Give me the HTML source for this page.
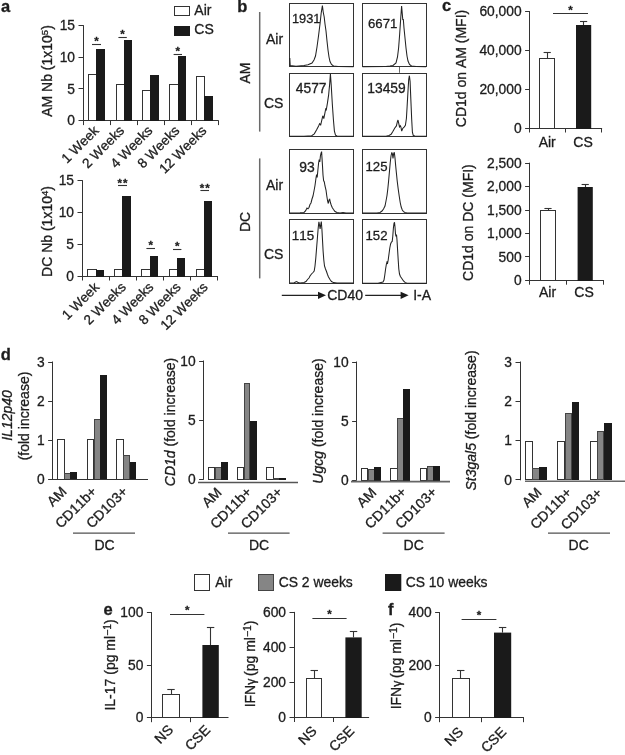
<!DOCTYPE html>
<html lang="en"><head><meta charset="utf-8"><title>Figure</title>
<style>
html,body{margin:0;padding:0;background:#fff;}
svg{display:block;}
svg text{font-family:"Liberation Sans",sans-serif;fill:#1c1c1c;stroke:#1c1c1c;stroke-width:0.3px;font-kerning:none;}
</style></head><body>
<svg width="625" height="755" viewBox="0 0 625 755">
<rect x="0" y="0" width="625" height="755" fill="#fff"/>
<text x="1.00" y="11.90" font-size="16.5" font-weight="bold">a</text>
<text x="237.30" y="11.90" font-size="16.5" font-weight="bold">b</text>
<text x="442.00" y="10.90" font-size="16.5" font-weight="bold">c</text>
<text x="0.80" y="359.60" font-size="16.5" font-weight="bold">d</text>
<text x="103.50" y="614.60" font-size="16.5" font-weight="bold">e</text>
<text x="388.00" y="614.60" font-size="16.5" font-weight="bold">f</text>
<line x1="83.50" y1="25.10" x2="83.50" y2="121.10" stroke="#333" stroke-width="1"/>
<line x1="78.50" y1="120.50" x2="83.00" y2="120.50" stroke="#333" stroke-width="1"/>
<text x="75.00" y="125.30" font-size="13.8" text-anchor="end">0</text>
<line x1="78.50" y1="88.50" x2="83.00" y2="88.50" stroke="#333" stroke-width="1"/>
<text x="75.00" y="93.63" font-size="13.8" text-anchor="end">5</text>
<line x1="78.50" y1="57.50" x2="83.00" y2="57.50" stroke="#333" stroke-width="1"/>
<text x="75.00" y="61.97" font-size="13.8" text-anchor="end">10</text>
<line x1="78.50" y1="25.50" x2="83.00" y2="25.50" stroke="#333" stroke-width="1"/>
<text x="75.00" y="30.30" font-size="13.8" text-anchor="end">15</text>
<line x1="82.50" y1="120.50" x2="218.70" y2="120.50" stroke="#333" stroke-width="1"/>
<line x1="83.50" y1="120.60" x2="83.50" y2="125.10" stroke="#333" stroke-width="1"/>
<line x1="110.50" y1="120.60" x2="110.50" y2="125.10" stroke="#333" stroke-width="1"/>
<line x1="137.50" y1="120.60" x2="137.50" y2="125.10" stroke="#333" stroke-width="1"/>
<line x1="164.50" y1="120.60" x2="164.50" y2="125.10" stroke="#333" stroke-width="1"/>
<line x1="191.50" y1="120.60" x2="191.50" y2="125.10" stroke="#333" stroke-width="1"/>
<line x1="218.50" y1="120.60" x2="218.50" y2="125.10" stroke="#333" stroke-width="1"/>
<rect x="88.50" y="74.50" width="8.00" height="46.00" fill="#fff" stroke="#333" stroke-width="1"/>
<rect x="96.00" y="49.00" width="9.00" height="72.00" fill="#1a1a1a"/>
<rect x="116.50" y="84.50" width="8.00" height="36.00" fill="#fff" stroke="#333" stroke-width="1"/>
<rect x="124.00" y="40.00" width="8.00" height="81.00" fill="#1a1a1a"/>
<rect x="142.50" y="90.50" width="8.00" height="30.00" fill="#fff" stroke="#333" stroke-width="1"/>
<rect x="150.00" y="75.00" width="9.00" height="46.00" fill="#1a1a1a"/>
<rect x="169.50" y="84.50" width="9.00" height="36.00" fill="#fff" stroke="#333" stroke-width="1"/>
<rect x="178.00" y="56.00" width="8.00" height="65.00" fill="#1a1a1a"/>
<rect x="196.50" y="76.50" width="8.00" height="44.00" fill="#fff" stroke="#333" stroke-width="1"/>
<rect x="204.00" y="96.00" width="9.00" height="25.00" fill="#1a1a1a"/>
<line x1="92.00" y1="44.50" x2="101.00" y2="44.50" stroke="#333" stroke-width="1.1"/>
<text x="96.50" y="45.00" font-size="11.5" text-anchor="middle" font-weight="bold">*</text>
<line x1="118.40" y1="37.50" x2="126.80" y2="37.50" stroke="#333" stroke-width="1.1"/>
<text x="122.60" y="38.20" font-size="11.5" text-anchor="middle" font-weight="bold">*</text>
<line x1="173.60" y1="54.50" x2="182.00" y2="54.50" stroke="#333" stroke-width="1.1"/>
<text x="177.80" y="54.80" font-size="11.5" text-anchor="middle" font-weight="bold">*</text>
<text transform="translate(99.60,131.50) rotate(-45)" font-size="13.6" text-anchor="end">1 Week</text>
<text transform="translate(125.10,131.50) rotate(-45)" font-size="13.6" text-anchor="end">2 Weeks</text>
<text transform="translate(153.30,131.50) rotate(-45)" font-size="13.6" text-anchor="end">4 Weeks</text>
<text transform="translate(180.30,131.50) rotate(-45)" font-size="13.6" text-anchor="end">8 Weeks</text>
<text transform="translate(207.40,131.50) rotate(-45)" font-size="13.6" text-anchor="end">12 Weeks</text>
<text transform="translate(52.00,71.00) rotate(-90)" font-size="14.0" text-anchor="middle">AM Nb (1x10<tspan dy="-4.5" font-size="9.5">5</tspan><tspan dy="4.5">)</tspan></text>
<line x1="82.50" y1="180.10" x2="82.50" y2="276.50" stroke="#333" stroke-width="1"/>
<line x1="77.50" y1="276.50" x2="82.00" y2="276.50" stroke="#333" stroke-width="1"/>
<text x="74.00" y="280.70" font-size="13.8" text-anchor="end">0</text>
<line x1="77.50" y1="244.50" x2="82.00" y2="244.50" stroke="#333" stroke-width="1"/>
<text x="74.00" y="248.90" font-size="13.8" text-anchor="end">5</text>
<line x1="77.50" y1="212.50" x2="82.00" y2="212.50" stroke="#333" stroke-width="1"/>
<text x="74.00" y="217.10" font-size="13.8" text-anchor="end">10</text>
<line x1="77.50" y1="180.50" x2="82.00" y2="180.50" stroke="#333" stroke-width="1"/>
<text x="74.00" y="185.30" font-size="13.8" text-anchor="end">15</text>
<line x1="81.50" y1="276.50" x2="217.80" y2="276.50" stroke="#333" stroke-width="1"/>
<line x1="82.50" y1="276.00" x2="82.50" y2="280.50" stroke="#333" stroke-width="1"/>
<line x1="109.50" y1="276.00" x2="109.50" y2="280.50" stroke="#333" stroke-width="1"/>
<line x1="136.50" y1="276.00" x2="136.50" y2="280.50" stroke="#333" stroke-width="1"/>
<line x1="163.50" y1="276.00" x2="163.50" y2="280.50" stroke="#333" stroke-width="1"/>
<line x1="190.50" y1="276.00" x2="190.50" y2="280.50" stroke="#333" stroke-width="1"/>
<line x1="217.50" y1="276.00" x2="217.50" y2="280.50" stroke="#333" stroke-width="1"/>
<rect x="87.50" y="269.50" width="9.00" height="7.00" fill="#fff" stroke="#333" stroke-width="1"/>
<rect x="96.00" y="270.00" width="8.00" height="7.00" fill="#1a1a1a"/>
<rect x="114.50" y="269.50" width="8.00" height="7.00" fill="#fff" stroke="#333" stroke-width="1"/>
<rect x="122.00" y="196.00" width="9.00" height="81.00" fill="#1a1a1a"/>
<rect x="141.50" y="269.50" width="9.00" height="7.00" fill="#fff" stroke="#333" stroke-width="1"/>
<rect x="150.00" y="256.00" width="8.00" height="21.00" fill="#1a1a1a"/>
<rect x="169.50" y="269.50" width="8.00" height="7.00" fill="#fff" stroke="#333" stroke-width="1"/>
<rect x="177.00" y="258.00" width="8.00" height="19.00" fill="#1a1a1a"/>
<rect x="196.50" y="269.50" width="8.00" height="7.00" fill="#fff" stroke="#333" stroke-width="1"/>
<rect x="204.00" y="201.00" width="8.00" height="76.00" fill="#1a1a1a"/>
<line x1="118.00" y1="185.50" x2="127.00" y2="185.50" stroke="#333" stroke-width="1.1"/>
<text x="123.00" y="186.70" font-size="11.5" text-anchor="middle" font-weight="bold" letter-spacing="1">**</text>
<line x1="146.40" y1="248.50" x2="155.00" y2="248.50" stroke="#333" stroke-width="1.1"/>
<text x="150.70" y="248.60" font-size="11.5" text-anchor="middle" font-weight="bold">*</text>
<line x1="173.00" y1="249.50" x2="181.40" y2="249.50" stroke="#333" stroke-width="1.1"/>
<text x="177.20" y="250.00" font-size="11.5" text-anchor="middle" font-weight="bold">*</text>
<line x1="200.40" y1="190.50" x2="209.00" y2="190.50" stroke="#333" stroke-width="1.1"/>
<text x="205.20" y="191.70" font-size="11.5" text-anchor="middle" font-weight="bold" letter-spacing="1">**</text>
<text transform="translate(100.00,288.00) rotate(-45)" font-size="13.6" text-anchor="end">1 Week</text>
<text transform="translate(126.70,288.00) rotate(-45)" font-size="13.6" text-anchor="end">2 Weeks</text>
<text transform="translate(154.40,288.00) rotate(-45)" font-size="13.6" text-anchor="end">4 Weeks</text>
<text transform="translate(181.60,288.00) rotate(-45)" font-size="13.6" text-anchor="end">8 Weeks</text>
<text transform="translate(208.65,288.00) rotate(-45)" font-size="13.6" text-anchor="end">12 Weeks</text>
<text transform="translate(52.00,231.50) rotate(-90)" font-size="14.0" text-anchor="middle">DC Nb (1x10<tspan dy="-4.5" font-size="9.5">4</tspan><tspan dy="4.5">)</tspan></text>
<rect x="174.50" y="6.50" width="15.00" height="9.00" fill="#fff" stroke="#333" stroke-width="1"/>
<rect x="174.00" y="26.00" width="16.00" height="10.00" fill="#1a1a1a"/>
<text x="194.30" y="14.90" font-size="14.0">Air</text>
<text x="194.30" y="34.20" font-size="14.0">CS</text>
<rect x="289.50" y="3.50" width="64.00" height="63.00" fill="none" stroke="#333" stroke-width="1"/>
<rect x="289.50" y="73.50" width="64.00" height="63.00" fill="none" stroke="#333" stroke-width="1"/>
<rect x="289.50" y="149.50" width="64.00" height="64.00" fill="none" stroke="#333" stroke-width="1"/>
<rect x="289.50" y="219.50" width="64.00" height="64.00" fill="none" stroke="#333" stroke-width="1"/>
<rect x="362.50" y="3.50" width="64.00" height="63.00" fill="none" stroke="#333" stroke-width="1"/>
<rect x="362.50" y="73.50" width="64.00" height="63.00" fill="none" stroke="#333" stroke-width="1"/>
<rect x="362.50" y="149.50" width="64.00" height="64.00" fill="none" stroke="#333" stroke-width="1"/>
<rect x="362.50" y="219.50" width="64.00" height="64.00" fill="none" stroke="#333" stroke-width="1"/>
<polyline points="289.8,58.0 290.2,65.5 296.0,66.3 304.0,65.6 308.0,64.8 312.0,63.0 314.0,60.0 315.5,56.0 317.0,47.0 318.5,36.0 320.0,24.0 321.2,13.0 322.4,5.6 323.2,12.0 324.2,17.0 325.0,24.0 326.0,31.0 327.0,41.0 328.0,50.0 329.0,57.0 330.0,61.5 331.5,64.5 333.5,66.0 338.0,66.5 353.5,66.7" fill="none" stroke="#222" stroke-width="1.05" stroke-linejoin="miter" stroke-miterlimit="3"/>
<polyline points="362.5,66.7 386.0,66.5 390.0,66.0 393.0,65.4 396.0,63.0 397.5,57.0 398.6,48.0 399.6,35.0 400.6,20.0 401.6,6.0 402.3,14.0 402.8,20.0 403.3,19.0 404.0,28.0 405.0,38.0 406.0,48.0 407.0,56.0 408.0,61.0 409.5,64.5 411.5,66.0 416.0,66.6 426.0,66.7" fill="none" stroke="#222" stroke-width="1.05" stroke-linejoin="miter" stroke-miterlimit="3"/>
<line x1="399.50" y1="67.00" x2="399.50" y2="72.80" stroke="#444" stroke-width="0.8"/>
<polyline points="289.8,136.2 304.0,136.2 308.0,135.9 311.7,135.7 314.3,133.8 316.5,130.1 318.6,125.9 319.6,123.7 320.7,124.9 321.7,120.6 322.8,115.8 323.8,118.6 324.9,113.2 325.7,109.0 326.3,109.8 327.5,102.6 328.6,95.2 329.7,83.6 330.4,73.8 331.2,84.7 332.3,103.7 333.4,119.5 334.4,131.1 335.5,135.1 337.0,135.9 353.5,136.2" fill="none" stroke="#222" stroke-width="1.05" stroke-linejoin="miter" stroke-miterlimit="3"/>
<polyline points="362.5,136.2 386.0,136.2 389.0,135.4 391.1,134.3 392.7,131.7 394.8,128.0 396.4,125.9 397.4,121.6 398.0,120.0 398.8,123.7 399.5,126.9 400.3,125.7 400.9,126.9 401.7,131.1 402.7,128.5 404.3,126.9 405.4,125.3 406.4,118.5 407.1,106.8 408.0,91.0 408.7,79.5 409.4,75.7 410.1,81.5 410.8,98.4 411.7,119.5 412.4,132.2 413.3,135.6 414.9,136.0 426.0,136.2" fill="none" stroke="#222" stroke-width="1.05" stroke-linejoin="miter" stroke-miterlimit="3"/>
<polyline points="289.8,213.0 300.0,212.8 304.0,212.4 305.5,211.0 307.0,208.0 308.0,208.8 309.0,207.5 310.0,204.5 311.0,203.0 312.0,199.0 313.0,196.0 314.0,191.0 315.0,185.5 316.0,178.0 316.6,174.5 317.2,177.5 317.8,171.0 318.6,163.0 319.2,159.5 319.8,162.0 320.4,156.0 321.0,153.5 321.6,151.6 322.0,158.0 322.5,166.0 323.0,175.0 323.6,180.5 324.3,182.0 325.0,186.0 326.0,190.0 326.8,196.0 327.6,201.0 328.3,203.5 329.0,200.0 329.7,199.3 330.4,202.5 331.2,205.0 332.2,207.5 333.5,209.5 335.0,211.5 337.0,212.5 340.0,213.0 343.0,212.6 346.0,213.0 353.5,213.0" fill="none" stroke="#222" stroke-width="1.05" stroke-linejoin="miter" stroke-miterlimit="3"/>
<polyline points="362.5,213.0 377.0,213.0 380.0,212.4 382.0,211.0 383.5,209.0 385.0,206.0 386.0,201.0 387.0,195.5 387.8,189.0 388.6,181.0 389.4,172.0 390.2,163.0 391.0,156.0 391.8,152.4 392.4,154.0 393.0,158.5 393.6,154.0 394.3,152.2 395.0,158.0 395.7,166.0 396.4,173.0 397.2,181.0 398.2,189.0 399.2,196.0 400.2,202.5 401.2,207.0 402.3,210.0 403.5,211.6 405.0,212.4 407.0,213.0 426.0,213.0" fill="none" stroke="#222" stroke-width="1.05" stroke-linejoin="miter" stroke-miterlimit="3"/>
<polyline points="289.8,283.0 294.0,283.0 295.5,282.0 296.8,281.5 298.0,282.6 300.0,283.0 304.0,282.5 306.0,281.5 307.5,279.5 309.0,278.0 310.0,276.0 311.5,274.0 313.0,272.5 314.2,271.0 315.0,266.0 315.8,258.0 316.6,248.0 317.4,238.0 318.2,228.0 318.9,221.8 319.5,225.0 320.1,229.0 320.7,225.0 321.3,221.6 321.9,229.0 322.5,240.0 323.1,251.0 323.8,260.0 324.5,266.0 325.5,269.0 326.5,271.5 327.5,274.5 328.5,277.0 330.0,279.5 331.5,281.5 333.5,282.6 337.0,283.0 353.5,283.0" fill="none" stroke="#222" stroke-width="1.05" stroke-linejoin="miter" stroke-miterlimit="3"/>
<polyline points="362.5,283.2 378.0,283.2 381.0,282.5 383.0,282.0 384.0,280.0 384.8,275.0 385.6,269.0 386.4,264.0 387.0,262.0 387.6,263.0 388.2,260.0 389.0,254.0 389.8,248.0 390.6,244.0 391.4,242.0 392.2,241.5 392.8,236.0 393.4,228.0 394.0,223.5 394.5,222.3 395.0,227.0 395.5,234.0 396.0,236.5 396.5,234.5 397.0,240.0 397.6,250.0 398.2,260.0 398.8,269.0 399.5,274.0 400.4,276.5 401.5,278.0 402.5,279.5 403.5,281.0 405.0,282.4 407.0,283.2 426.0,283.2" fill="none" stroke="#222" stroke-width="1.05" stroke-linejoin="miter" stroke-miterlimit="3"/>
<text x="292.00" y="23.40" font-size="12.8">1931</text>
<text x="368.00" y="27.80" font-size="13.2">6671</text>
<text x="295.80" y="93.20" font-size="13.8">4577</text>
<text x="367.30" y="93.20" font-size="13.8">13459</text>
<text x="299.20" y="171.80" font-size="13.9">93</text>
<text x="365.50" y="171.40" font-size="13.2">125</text>
<text x="291.80" y="240.00" font-size="13.4">115</text>
<text x="365.50" y="239.60" font-size="13.2">152</text>
<line x1="259.70" y1="12.00" x2="259.70" y2="131.60" stroke="#6a6a6a" stroke-width="1.5"/>
<line x1="259.70" y1="158.40" x2="259.70" y2="278.40" stroke="#6a6a6a" stroke-width="1.5"/>
<text transform="translate(250.00,73.00) rotate(-90)" font-size="14.0" text-anchor="middle">AM</text>
<text transform="translate(250.00,222.00) rotate(-90)" font-size="14.0" text-anchor="middle">DC</text>
<text x="266.00" y="43.80" font-size="14.0">Air</text>
<text x="264.00" y="108.20" font-size="14.0">CS</text>
<text x="266.00" y="190.20" font-size="14.0">Air</text>
<text x="264.00" y="259.20" font-size="14.0">CS</text>
<line x1="281.80" y1="295.30" x2="320.00" y2="295.30" stroke="#222" stroke-width="1.3"/>
<polygon points="318.0,291.7 326.0,295.3 318.0,298.9" fill="#1a1a1a"/>
<line x1="365.20" y1="295.30" x2="402.60" y2="295.30" stroke="#222" stroke-width="1.3"/>
<polygon points="400.6,291.7 408.6,295.3 400.6,298.9" fill="#1a1a1a"/>
<text x="327.20" y="300.00" font-size="14.0">CD40</text>
<text x="413.20" y="300.00" font-size="14.0">I-A</text>
<line x1="529.50" y1="11.10" x2="529.50" y2="128.50" stroke="#333" stroke-width="1"/>
<line x1="525.10" y1="128.50" x2="529.60" y2="128.50" stroke="#333" stroke-width="1"/>
<text x="521.60" y="132.80" font-size="13.8" text-anchor="end">0</text>
<line x1="525.10" y1="89.50" x2="529.60" y2="89.50" stroke="#333" stroke-width="1"/>
<text x="521.60" y="94.00" font-size="13.8" text-anchor="end">20,000</text>
<line x1="525.10" y1="50.50" x2="529.60" y2="50.50" stroke="#333" stroke-width="1"/>
<text x="521.60" y="55.20" font-size="13.8" text-anchor="end">40,000</text>
<line x1="525.10" y1="11.50" x2="529.60" y2="11.50" stroke="#333" stroke-width="1"/>
<text x="521.60" y="16.40" font-size="13.8" text-anchor="end">60,000</text>
<line x1="529.10" y1="128.50" x2="602.10" y2="128.50" stroke="#333" stroke-width="1"/>
<line x1="529.50" y1="128.00" x2="529.50" y2="132.50" stroke="#333" stroke-width="1"/>
<line x1="565.50" y1="128.00" x2="565.50" y2="132.50" stroke="#333" stroke-width="1"/>
<line x1="601.50" y1="128.00" x2="601.50" y2="132.50" stroke="#333" stroke-width="1"/>
<line x1="547.50" y1="52.00" x2="547.50" y2="58.00" stroke="#333" stroke-width="1.1"/>
<line x1="543.60" y1="52.50" x2="550.80" y2="52.50" stroke="#333" stroke-width="1.1"/>
<rect x="539.50" y="58.50" width="15.00" height="70.00" fill="#fff" stroke="#333" stroke-width="1"/>
<line x1="583.50" y1="21.00" x2="583.50" y2="25.00" stroke="#333" stroke-width="1.1"/>
<line x1="580.00" y1="21.50" x2="587.20" y2="21.50" stroke="#333" stroke-width="1.1"/>
<rect x="576.00" y="25.00" width="15.20" height="104.00" fill="#1a1a1a"/>
<text x="547.20" y="147.20" font-size="14.0" text-anchor="middle">Air</text>
<text x="583.00" y="147.20" font-size="14.0" text-anchor="middle">CS</text>
<text transform="translate(466.00,68.50) rotate(-90)" font-size="14.0" text-anchor="middle">CD1d on AM (MFI)</text>
<line x1="553.00" y1="13.50" x2="588.00" y2="13.50" stroke="#333" stroke-width="1.1"/>
<text x="570.50" y="14.00" font-size="11.5" text-anchor="middle" font-weight="bold">*</text>
<line x1="529.50" y1="162.70" x2="529.50" y2="280.70" stroke="#333" stroke-width="1"/>
<line x1="525.10" y1="280.50" x2="529.60" y2="280.50" stroke="#333" stroke-width="1"/>
<text x="521.60" y="285.00" font-size="13.8" text-anchor="end">0</text>
<line x1="525.10" y1="256.50" x2="529.60" y2="256.50" stroke="#333" stroke-width="1"/>
<text x="521.60" y="261.60" font-size="13.8" text-anchor="end">500</text>
<line x1="525.10" y1="233.50" x2="529.60" y2="233.50" stroke="#333" stroke-width="1"/>
<text x="521.60" y="238.20" font-size="13.8" text-anchor="end">1,000</text>
<line x1="525.10" y1="210.50" x2="529.60" y2="210.50" stroke="#333" stroke-width="1"/>
<text x="521.60" y="214.80" font-size="13.8" text-anchor="end">1,500</text>
<line x1="525.10" y1="186.50" x2="529.60" y2="186.50" stroke="#333" stroke-width="1"/>
<text x="521.60" y="191.40" font-size="13.8" text-anchor="end">2,000</text>
<line x1="525.10" y1="163.50" x2="529.60" y2="163.50" stroke="#333" stroke-width="1"/>
<text x="521.60" y="168.00" font-size="13.8" text-anchor="end">2,500</text>
<line x1="529.10" y1="280.50" x2="603.90" y2="280.50" stroke="#333" stroke-width="1"/>
<line x1="529.50" y1="280.20" x2="529.50" y2="284.70" stroke="#333" stroke-width="1"/>
<line x1="566.50" y1="280.20" x2="566.50" y2="284.70" stroke="#333" stroke-width="1"/>
<line x1="603.50" y1="280.20" x2="603.50" y2="284.70" stroke="#333" stroke-width="1"/>
<line x1="548.50" y1="208.00" x2="548.50" y2="210.00" stroke="#333" stroke-width="1.1"/>
<line x1="544.40" y1="208.50" x2="551.60" y2="208.50" stroke="#333" stroke-width="1.1"/>
<rect x="540.50" y="210.50" width="15.00" height="70.00" fill="#fff" stroke="#333" stroke-width="1"/>
<line x1="585.50" y1="184.40" x2="585.50" y2="187.00" stroke="#333" stroke-width="1.1"/>
<line x1="581.60" y1="184.50" x2="588.80" y2="184.50" stroke="#333" stroke-width="1.1"/>
<rect x="577.60" y="187.00" width="15.20" height="94.00" fill="#1a1a1a"/>
<text x="547.60" y="297.20" font-size="14.0" text-anchor="middle">Air</text>
<text x="584.00" y="297.20" font-size="14.0" text-anchor="middle">CS</text>
<text transform="translate(472.60,222.60) rotate(-90)" font-size="14.0" text-anchor="middle">CD1d on DC (MFI)</text>
<line x1="52.50" y1="361.50" x2="52.50" y2="480.00" stroke="#333" stroke-width="1"/>
<line x1="48.10" y1="479.50" x2="52.60" y2="479.50" stroke="#333" stroke-width="1"/>
<text x="44.60" y="484.30" font-size="13.8" text-anchor="end">0</text>
<line x1="48.10" y1="440.50" x2="52.60" y2="440.50" stroke="#333" stroke-width="1"/>
<text x="44.60" y="445.15" font-size="13.8" text-anchor="end">1</text>
<line x1="48.10" y1="401.50" x2="52.60" y2="401.50" stroke="#333" stroke-width="1"/>
<text x="44.60" y="406.00" font-size="13.8" text-anchor="end">2</text>
<line x1="48.10" y1="362.50" x2="52.60" y2="362.50" stroke="#333" stroke-width="1"/>
<text x="44.60" y="366.85" font-size="13.8" text-anchor="end">3</text>
<rect x="57.50" y="439.50" width="7.00" height="40.00" fill="#fff" stroke="#333" stroke-width="1"/>
<rect x="64.50" y="473.50" width="6.00" height="6.00" fill="#858585" stroke="#444" stroke-width="1"/>
<rect x="70.00" y="472.00" width="7.00" height="8.00" fill="#1a1a1a"/>
<rect x="87.50" y="439.50" width="6.00" height="40.00" fill="#fff" stroke="#333" stroke-width="1"/>
<rect x="94.50" y="419.50" width="6.00" height="60.00" fill="#858585" stroke="#444" stroke-width="1"/>
<rect x="100.00" y="375.00" width="7.00" height="105.00" fill="#1a1a1a"/>
<rect x="116.50" y="439.50" width="7.00" height="40.00" fill="#fff" stroke="#333" stroke-width="1"/>
<rect x="123.50" y="455.50" width="6.00" height="24.00" fill="#858585" stroke="#444" stroke-width="1"/>
<rect x="130.00" y="462.00" width="6.00" height="18.00" fill="#1a1a1a"/>
<line x1="52.50" y1="479.50" x2="148.00" y2="479.50" stroke="#333" stroke-width="1.2"/>
<text transform="translate(67.50,492.50) rotate(-45)" font-size="14.0" text-anchor="end">AM</text>
<text transform="translate(97.50,492.50) rotate(-45)" font-size="14.0" text-anchor="end">CD11b+</text>
<text transform="translate(128.50,492.50) rotate(-45)" font-size="14.0" text-anchor="end">CD103+</text>
<line x1="73.00" y1="533.20" x2="135.00" y2="533.20" stroke="#505050" stroke-width="1.3"/>
<text x="104.50" y="550.00" font-size="14.0" text-anchor="middle">DC</text>
<text transform="translate(12.40,415.50) rotate(-90)" font-size="14.0" text-anchor="middle"><tspan font-style="italic">IL12p40</tspan></text>
<text transform="translate(29.10,416.00) rotate(-90)" font-size="14.0" text-anchor="middle">(fold increase)</text>
<line x1="203.50" y1="360.50" x2="203.50" y2="479.70" stroke="#333" stroke-width="1"/>
<line x1="199.10" y1="479.50" x2="203.60" y2="479.50" stroke="#333" stroke-width="1"/>
<text x="195.60" y="484.00" font-size="13.8" text-anchor="end">0</text>
<line x1="199.10" y1="420.50" x2="203.60" y2="420.50" stroke="#333" stroke-width="1"/>
<text x="195.60" y="424.90" font-size="13.8" text-anchor="end">5</text>
<line x1="199.10" y1="361.50" x2="203.60" y2="361.50" stroke="#333" stroke-width="1"/>
<text x="195.60" y="365.80" font-size="13.8" text-anchor="end">10</text>
<rect x="208.50" y="467.50" width="6.00" height="12.00" fill="#fff" stroke="#333" stroke-width="1"/>
<rect x="215.50" y="467.50" width="6.00" height="12.00" fill="#858585" stroke="#444" stroke-width="1"/>
<rect x="221.00" y="462.00" width="7.00" height="18.00" fill="#1a1a1a"/>
<rect x="237.50" y="467.50" width="6.00" height="12.00" fill="#fff" stroke="#333" stroke-width="1"/>
<rect x="244.50" y="383.50" width="5.00" height="96.00" fill="#858585" stroke="#444" stroke-width="1"/>
<rect x="250.00" y="421.00" width="7.00" height="59.00" fill="#1a1a1a"/>
<rect x="266.50" y="467.50" width="7.00" height="12.00" fill="#fff" stroke="#333" stroke-width="1"/>
<rect x="273.50" y="478.50" width="6.00" height="1.00" fill="#858585" stroke="#444" stroke-width="1"/>
<rect x="279.00" y="478.00" width="7.00" height="2.00" fill="#1a1a1a"/>
<line x1="198.00" y1="482.60" x2="298.00" y2="482.60" stroke="#555" stroke-width="1.5"/>
<text transform="translate(222.50,493.50) rotate(-45)" font-size="14.0" text-anchor="end">AM</text>
<text transform="translate(252.50,493.00) rotate(-45)" font-size="14.0" text-anchor="end">CD11b+</text>
<text transform="translate(283.20,493.00) rotate(-45)" font-size="14.0" text-anchor="end">CD103+</text>
<line x1="228.00" y1="533.20" x2="289.60" y2="533.20" stroke="#505050" stroke-width="1.3"/>
<text x="259.00" y="550.00" font-size="14.0" text-anchor="middle">DC</text>
<text transform="translate(174.50,422.00) rotate(-90)" font-size="14.0" text-anchor="middle"><tspan font-style="italic">CD1d</tspan> (fold increase)</text>
<line x1="356.50" y1="361.50" x2="356.50" y2="480.50" stroke="#333" stroke-width="1"/>
<line x1="352.10" y1="480.50" x2="356.60" y2="480.50" stroke="#333" stroke-width="1"/>
<text x="348.60" y="484.80" font-size="13.8" text-anchor="end">0</text>
<line x1="352.10" y1="421.50" x2="356.60" y2="421.50" stroke="#333" stroke-width="1"/>
<text x="348.60" y="425.80" font-size="13.8" text-anchor="end">5</text>
<line x1="352.10" y1="362.50" x2="356.60" y2="362.50" stroke="#333" stroke-width="1"/>
<text x="348.60" y="366.80" font-size="13.8" text-anchor="end">10</text>
<rect x="361.50" y="468.50" width="6.00" height="12.00" fill="#fff" stroke="#333" stroke-width="1"/>
<rect x="368.50" y="469.50" width="6.00" height="11.00" fill="#858585" stroke="#444" stroke-width="1"/>
<rect x="374.00" y="467.00" width="7.00" height="14.00" fill="#1a1a1a"/>
<rect x="390.50" y="468.50" width="7.00" height="12.00" fill="#fff" stroke="#333" stroke-width="1"/>
<rect x="397.50" y="418.50" width="6.00" height="62.00" fill="#858585" stroke="#444" stroke-width="1"/>
<rect x="403.00" y="389.00" width="7.00" height="92.00" fill="#1a1a1a"/>
<rect x="420.50" y="468.50" width="6.00" height="12.00" fill="#fff" stroke="#333" stroke-width="1"/>
<rect x="427.50" y="466.50" width="6.00" height="14.00" fill="#858585" stroke="#444" stroke-width="1"/>
<rect x="433.00" y="466.00" width="7.00" height="15.00" fill="#1a1a1a"/>
<line x1="351.00" y1="481.60" x2="450.00" y2="481.60" stroke="#666" stroke-width="1.6"/>
<text transform="translate(377.30,493.50) rotate(-45)" font-size="14.0" text-anchor="end">AM</text>
<text transform="translate(407.20,493.00) rotate(-45)" font-size="14.0" text-anchor="end">CD11b+</text>
<text transform="translate(437.70,493.00) rotate(-45)" font-size="14.0" text-anchor="end">CD103+</text>
<line x1="382.60" y1="533.20" x2="444.60" y2="533.20" stroke="#505050" stroke-width="1.3"/>
<text x="413.70" y="550.00" font-size="14.0" text-anchor="middle">DC</text>
<text transform="translate(323.00,421.00) rotate(-90)" font-size="14.0" text-anchor="middle"><tspan font-style="italic">Ugcg</tspan> (fold increase)</text>
<line x1="520.50" y1="361.50" x2="520.50" y2="480.30" stroke="#333" stroke-width="1"/>
<line x1="515.50" y1="479.50" x2="520.00" y2="479.50" stroke="#333" stroke-width="1"/>
<text x="512.00" y="484.60" font-size="13.8" text-anchor="end">0</text>
<line x1="515.50" y1="440.50" x2="520.00" y2="440.50" stroke="#333" stroke-width="1"/>
<text x="512.00" y="445.35" font-size="13.8" text-anchor="end">1</text>
<line x1="515.50" y1="401.50" x2="520.00" y2="401.50" stroke="#333" stroke-width="1"/>
<text x="512.00" y="406.10" font-size="13.8" text-anchor="end">2</text>
<line x1="515.50" y1="362.50" x2="520.00" y2="362.50" stroke="#333" stroke-width="1"/>
<text x="512.00" y="366.85" font-size="13.8" text-anchor="end">3</text>
<rect x="525.50" y="441.50" width="7.00" height="38.00" fill="#fff" stroke="#333" stroke-width="1"/>
<rect x="532.50" y="468.50" width="7.00" height="11.00" fill="#858585" stroke="#444" stroke-width="1"/>
<rect x="539.00" y="467.00" width="8.00" height="13.00" fill="#1a1a1a"/>
<rect x="557.50" y="441.50" width="7.00" height="38.00" fill="#fff" stroke="#333" stroke-width="1"/>
<rect x="565.50" y="413.50" width="6.00" height="66.00" fill="#858585" stroke="#444" stroke-width="1"/>
<rect x="572.00" y="402.00" width="7.00" height="78.00" fill="#1a1a1a"/>
<rect x="590.50" y="441.50" width="7.00" height="38.00" fill="#fff" stroke="#333" stroke-width="1"/>
<rect x="597.50" y="431.50" width="6.00" height="48.00" fill="#858585" stroke="#444" stroke-width="1"/>
<rect x="604.00" y="423.00" width="8.00" height="57.00" fill="#1a1a1a"/>
<line x1="525.00" y1="481.20" x2="625.00" y2="481.20" stroke="#666" stroke-width="1.6"/>
<text transform="translate(542.50,493.50) rotate(-45)" font-size="14.0" text-anchor="end">AM</text>
<text transform="translate(572.50,493.50) rotate(-45)" font-size="14.0" text-anchor="end">CD11b+</text>
<text transform="translate(603.00,494.00) rotate(-45)" font-size="14.0" text-anchor="end">CD103+</text>
<line x1="548.00" y1="533.20" x2="610.00" y2="533.20" stroke="#505050" stroke-width="1.3"/>
<text x="578.70" y="550.00" font-size="14.0" text-anchor="middle">DC</text>
<text transform="translate(476.00,420.50) rotate(-90)" font-size="14.0" text-anchor="middle"><tspan font-style="italic">St3gal5</tspan> (fold increase)</text>
<rect x="194.50" y="574.50" width="15.00" height="16.00" fill="#fff" stroke="#333" stroke-width="1"/>
<rect x="258.50" y="574.50" width="15.00" height="16.00" fill="#858585" stroke="#444" stroke-width="1"/>
<rect x="385.00" y="574.00" width="16.30" height="17.00" fill="#1a1a1a"/>
<text x="215.30" y="586.70" font-size="13.9">Air</text>
<text x="278.70" y="586.70" font-size="13.9">CS 2 weeks</text>
<text x="405.70" y="586.70" font-size="13.9">CS 10 weeks</text>
<line x1="151.50" y1="612.10" x2="151.50" y2="717.90" stroke="#333" stroke-width="1"/>
<line x1="146.90" y1="717.50" x2="151.40" y2="717.50" stroke="#333" stroke-width="1"/>
<text x="143.40" y="722.20" font-size="13.8" text-anchor="end">0</text>
<line x1="146.90" y1="665.50" x2="151.40" y2="665.50" stroke="#333" stroke-width="1"/>
<text x="143.40" y="669.80" font-size="13.8" text-anchor="end">50</text>
<line x1="146.90" y1="612.50" x2="151.40" y2="612.50" stroke="#333" stroke-width="1"/>
<text x="143.40" y="617.40" font-size="13.8" text-anchor="end">100</text>
<line x1="150.90" y1="717.50" x2="228.50" y2="717.50" stroke="#333" stroke-width="1"/>
<line x1="151.50" y1="717.40" x2="151.50" y2="722.20" stroke="#333" stroke-width="1"/>
<line x1="190.50" y1="717.40" x2="190.50" y2="722.20" stroke="#333" stroke-width="1"/>
<line x1="171.50" y1="689.40" x2="171.50" y2="694.40" stroke="#333" stroke-width="1.1"/>
<line x1="167.30" y1="689.50" x2="174.70" y2="689.50" stroke="#333" stroke-width="1.1"/>
<rect x="162.50" y="694.50" width="17.00" height="23.00" fill="#fff" stroke="#333" stroke-width="1"/>
<line x1="210.50" y1="627.00" x2="210.50" y2="645.00" stroke="#333" stroke-width="1.1"/>
<line x1="206.90" y1="627.50" x2="214.30" y2="627.50" stroke="#333" stroke-width="1.1"/>
<rect x="202.40" y="645.00" width="16.40" height="73.00" fill="#1a1a1a"/>
<text transform="translate(115.00,665.00) rotate(-90)" font-size="14.0" text-anchor="middle">IL-17 (pg ml<tspan dy="-4.5" font-size="10.3">−1</tspan><tspan dy="4.5">)</tspan></text>
<line x1="170.00" y1="614.50" x2="204.40" y2="614.50" stroke="#333" stroke-width="1.1"/>
<text x="187.20" y="613.50" font-size="11.5" text-anchor="middle" font-weight="bold">*</text>
<text transform="translate(174.00,730.70) rotate(-45)" font-size="14.0" text-anchor="end">NS</text>
<text transform="translate(211.00,731.00) rotate(-45)" font-size="14.0" text-anchor="end">CSE</text>
<line x1="294.50" y1="611.90" x2="294.50" y2="717.70" stroke="#333" stroke-width="1"/>
<line x1="289.50" y1="717.50" x2="294.00" y2="717.50" stroke="#333" stroke-width="1"/>
<text x="286.00" y="722.00" font-size="13.8" text-anchor="end">0</text>
<line x1="289.50" y1="682.50" x2="294.00" y2="682.50" stroke="#333" stroke-width="1"/>
<text x="286.00" y="687.07" font-size="13.8" text-anchor="end">200</text>
<line x1="289.50" y1="647.50" x2="294.00" y2="647.50" stroke="#333" stroke-width="1"/>
<text x="286.00" y="652.14" font-size="13.8" text-anchor="end">400</text>
<line x1="289.50" y1="612.50" x2="294.00" y2="612.50" stroke="#333" stroke-width="1"/>
<text x="286.00" y="617.21" font-size="13.8" text-anchor="end">600</text>
<line x1="293.50" y1="717.50" x2="369.10" y2="717.50" stroke="#333" stroke-width="1"/>
<line x1="294.50" y1="717.20" x2="294.50" y2="722.00" stroke="#333" stroke-width="1"/>
<line x1="333.50" y1="717.20" x2="333.50" y2="722.00" stroke="#333" stroke-width="1"/>
<line x1="314.50" y1="670.60" x2="314.50" y2="678.40" stroke="#333" stroke-width="1.1"/>
<line x1="310.55" y1="670.50" x2="317.95" y2="670.50" stroke="#333" stroke-width="1.1"/>
<rect x="306.50" y="678.50" width="15.00" height="39.00" fill="#fff" stroke="#333" stroke-width="1"/>
<line x1="353.50" y1="631.60" x2="353.50" y2="637.40" stroke="#333" stroke-width="1.1"/>
<line x1="349.85" y1="631.50" x2="357.25" y2="631.50" stroke="#333" stroke-width="1.1"/>
<rect x="345.40" y="637.40" width="16.30" height="80.60" fill="#1a1a1a"/>
<text transform="translate(255.40,664.00) rotate(-90)" font-size="14.0" text-anchor="middle">IFN<tspan font-size="12.3">γ</tspan><tspan dx="-1.2"> (pg ml</tspan><tspan dy="-4.5" font-size="10.3">−1</tspan><tspan dy="4.5">)</tspan></text>
<line x1="312.40" y1="618.50" x2="346.60" y2="618.50" stroke="#333" stroke-width="1.1"/>
<text x="329.50" y="617.90" font-size="11.5" text-anchor="middle" font-weight="bold">*</text>
<text transform="translate(317.70,732.00) rotate(-45)" font-size="14.0" text-anchor="end">NS</text>
<text transform="translate(355.00,732.00) rotate(-45)" font-size="14.0" text-anchor="end">CSE</text>
<line x1="439.50" y1="612.10" x2="439.50" y2="717.90" stroke="#333" stroke-width="1"/>
<line x1="435.10" y1="717.50" x2="439.60" y2="717.50" stroke="#333" stroke-width="1"/>
<text x="431.60" y="722.20" font-size="13.8" text-anchor="end">0</text>
<line x1="435.10" y1="665.50" x2="439.60" y2="665.50" stroke="#333" stroke-width="1"/>
<text x="431.60" y="669.80" font-size="13.8" text-anchor="end">200</text>
<line x1="435.10" y1="612.50" x2="439.60" y2="612.50" stroke="#333" stroke-width="1"/>
<text x="431.60" y="617.40" font-size="13.8" text-anchor="end">400</text>
<line x1="439.10" y1="717.50" x2="523.90" y2="717.50" stroke="#333" stroke-width="1"/>
<line x1="439.50" y1="717.40" x2="439.50" y2="722.20" stroke="#333" stroke-width="1"/>
<line x1="481.50" y1="717.40" x2="481.50" y2="722.20" stroke="#333" stroke-width="1"/>
<line x1="523.50" y1="717.40" x2="523.50" y2="722.20" stroke="#333" stroke-width="1"/>
<line x1="460.50" y1="670.40" x2="460.50" y2="678.00" stroke="#333" stroke-width="1.1"/>
<line x1="457.05" y1="670.50" x2="464.45" y2="670.50" stroke="#333" stroke-width="1.1"/>
<rect x="452.50" y="678.50" width="17.00" height="39.00" fill="#fff" stroke="#333" stroke-width="1"/>
<line x1="502.50" y1="627.40" x2="502.50" y2="632.60" stroke="#333" stroke-width="1.1"/>
<line x1="498.90" y1="627.50" x2="506.30" y2="627.50" stroke="#333" stroke-width="1.1"/>
<rect x="494.00" y="632.60" width="17.20" height="85.40" fill="#1a1a1a"/>
<text transform="translate(401.00,666.00) rotate(-90)" font-size="14.0" text-anchor="middle">IFN<tspan font-size="12.3">γ</tspan><tspan dx="-1.2"> (pg ml</tspan><tspan dy="-4.5" font-size="10.3">−1</tspan><tspan dy="4.5">)</tspan></text>
<line x1="461.60" y1="619.50" x2="496.40" y2="619.50" stroke="#333" stroke-width="1.1"/>
<text x="479.00" y="618.90" font-size="11.5" text-anchor="middle" font-weight="bold">*</text>
<text transform="translate(464.00,733.00) rotate(-45)" font-size="14.0" text-anchor="end">NS</text>
<text transform="translate(507.00,733.00) rotate(-45)" font-size="14.0" text-anchor="end">CSE</text>
</svg>
</body></html>
